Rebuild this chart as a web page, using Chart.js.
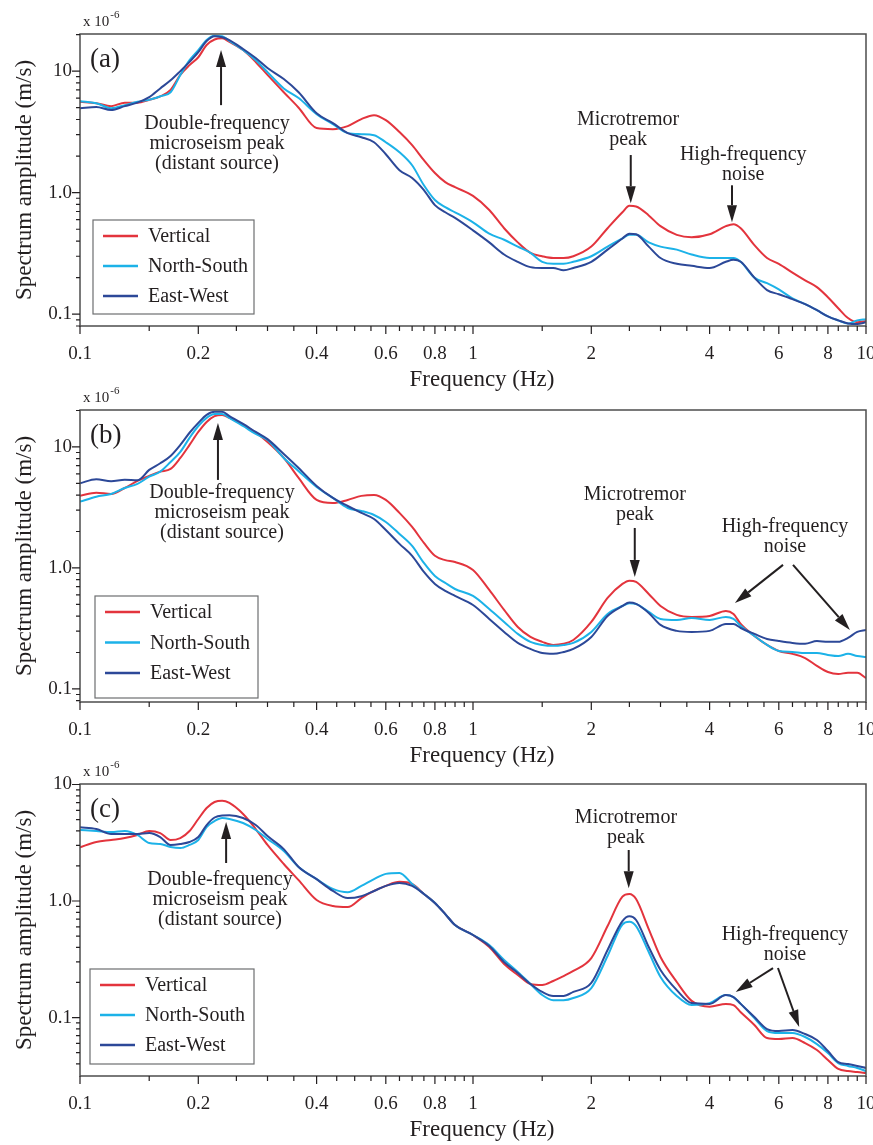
<!DOCTYPE html>
<html>
<head>
<meta charset="utf-8">
<script src="https://cdn.jsdelivr.net/npm/chart.js@4.4.1/dist/chart.umd.min.js"></script>
<style>
  html, body { margin: 0; padding: 0; background: #fff; }
  #wrap { position: relative; width: 873px; height: 1145px; overflow: hidden; }
  canvas { position: absolute; left: 0; }
</style>
</head>
<body>
<div id="wrap">
  <canvas id="chart-a" width="873" height="392" style="top:0px"></canvas>
  <canvas id="chart-b" width="873" height="388" style="top:380px"></canvas>
  <canvas id="chart-c" width="873" height="390" style="top:755px"></canvas>
</div>
<script>
const seriesNames = ["Vertical", "North-South", "East-West"];

const freqHz = [
  0.1, 0.11, 0.12, 0.13, 0.14, 0.15, 0.16, 0.17, 0.18, 0.19,
  0.2, 0.21, 0.22, 0.23, 0.24, 0.26, 0.28, 0.3, 0.33, 0.36,
  0.4, 0.44, 0.48, 0.52, 0.56, 0.6, 0.65, 0.7, 0.75, 0.8,
  0.85, 0.9, 1.0, 1.1, 1.2, 1.3, 1.4, 1.5, 1.6, 1.7,
  1.8, 2.0, 2.2, 2.4, 2.5, 2.6, 2.8, 3.0, 3.3, 3.6, 4.0,
  4.4, 4.6, 4.8, 5.2, 5.6, 6.0, 6.5, 7.0, 7.5, 8.0,
  8.5, 9.0, 9.5, 10
];

// panel (a), x 10^-6 m/s
const verticalA = [
  5.6, 5.45, 5.15, 5.5, 5.5, 5.8, 6.2, 7.0, 9.3, 11.2,
  13.0, 16.4, 18.2, 18.6, 17.4, 14.9, 11.9, 9.3, 6.7, 5.0,
  3.4, 3.33, 3.53, 4.03, 4.34, 3.95, 3.15, 2.46, 1.85, 1.45,
  1.22, 1.11, 0.94, 0.72, 0.51, 0.39, 0.32, 0.30, 0.29, 0.29,
  0.30, 0.36, 0.51, 0.69, 0.78, 0.77, 0.65, 0.53, 0.45, 0.43, 0.455,
  0.53, 0.55, 0.51, 0.37, 0.29, 0.26, 0.22, 0.19, 0.167, 0.138,
  0.112, 0.093, 0.086, 0.088
];
const northSouthA = [
  5.66, 5.45, 4.96, 5.25, 5.6, 5.8, 6.2, 6.7, 9.3, 12.3,
  14.9, 18.0, 19.5, 19.4, 17.7, 14.9, 12.3, 9.8, 7.2, 6.0,
  4.43, 3.66, 3.09, 3.03, 2.97, 2.6, 2.15, 1.68, 1.15, 0.87,
  0.76, 0.69, 0.57, 0.46, 0.41, 0.36, 0.32, 0.27, 0.26, 0.26,
  0.27, 0.30, 0.36, 0.42, 0.45, 0.45, 0.39, 0.36, 0.34, 0.31, 0.29,
  0.29, 0.29, 0.27, 0.20, 0.18, 0.16, 0.135, 0.121, 0.108, 0.096,
  0.089, 0.084, 0.089, 0.091
];
const eastWestA = [
  4.96, 5.06, 4.78, 5.15, 5.5, 6.1, 7.2, 8.4, 10.0, 11.9,
  14.3, 17.7, 19.4, 19.0, 18.0, 15.2, 12.8, 10.6, 8.6, 6.7,
  4.5, 3.73, 3.09, 2.86, 2.6, 2.07, 1.53, 1.32, 1.05, 0.79,
  0.69, 0.62, 0.49, 0.39, 0.31, 0.27, 0.244, 0.24, 0.24, 0.23,
  0.24, 0.27, 0.34, 0.42, 0.46, 0.455, 0.36, 0.29, 0.26, 0.25, 0.24,
  0.27, 0.28, 0.27, 0.20, 0.158, 0.146, 0.133, 0.121, 0.108, 0.096,
  0.089, 0.084, 0.083, 0.086
];

// panel (b)
const verticalB = [
  3.94, 4.19, 4.09, 4.58, 5.24, 5.76, 6.25, 6.58, 8.11, 10.4,
  13.3, 16.1, 18.0, 18.4, 17.4, 15.2, 13.1, 11.0, 8.11, 5.54,
  3.65, 3.44, 3.65, 3.94, 4.01, 3.65, 2.85, 2.18, 1.61, 1.26,
  1.16, 1.12, 0.963, 0.658, 0.450, 0.325, 0.269, 0.245, 0.231, 0.236,
  0.254, 0.358, 0.565, 0.738, 0.785, 0.766, 0.610, 0.485, 0.409, 0.394, 0.401,
  0.441, 0.417, 0.344, 0.274, 0.231, 0.206, 0.195, 0.180, 0.155, 0.138,
  0.133, 0.136, 0.136, 0.123
];
const northSouthB = [
  3.53, 3.88, 4.09, 4.58, 4.95, 5.68, 6.25, 7.52, 9.1, 11.9,
  14.9, 17.4, 18.7, 18.7, 17.4, 14.9, 12.8, 11.4, 8.11, 6.3,
  4.67, 3.79, 3.13, 2.96, 2.74, 2.40, 1.91, 1.52, 1.10, 0.859,
  0.752, 0.670, 0.587, 0.458, 0.358, 0.285, 0.245, 0.231, 0.227, 0.231,
  0.240, 0.296, 0.417, 0.485, 0.511, 0.504, 0.433, 0.379, 0.372, 0.386, 0.372,
  0.394, 0.379, 0.332, 0.274, 0.231, 0.206, 0.202, 0.198, 0.198, 0.191,
  0.187, 0.195, 0.187, 0.184
];
const eastWestB = [
  5.01, 5.41, 5.2, 5.35, 5.3, 6.46, 7.33, 8.43, 10.4, 13.1,
  15.8, 18.4, 19.5, 19.5, 18.0, 15.5, 13.3, 11.6, 8.75, 6.70,
  4.76, 3.79, 3.25, 2.85, 2.54, 2.06, 1.58, 1.26, 0.927, 0.738,
  0.646, 0.587, 0.494, 0.379, 0.296, 0.240, 0.214, 0.198, 0.195, 0.202,
  0.214, 0.269, 0.401, 0.485, 0.517, 0.504, 0.425, 0.338, 0.302, 0.296, 0.302,
  0.344, 0.344, 0.319, 0.285, 0.259, 0.249, 0.240, 0.236, 0.249, 0.245,
  0.245, 0.264, 0.296, 0.307
];

// panel (c)
const verticalC = [
  2.89, 3.21, 3.34, 3.47, 3.69, 3.99, 3.83, 3.34, 3.47, 3.99,
  5.06, 6.29, 7.08, 7.26, 6.94, 5.58, 4.15, 3.03, 2.08, 1.51,
  1.02, 0.906, 0.888, 1.06, 1.22, 1.35, 1.46, 1.40, 1.15, 0.962,
  0.773, 0.622, 0.511, 0.403, 0.288, 0.232, 0.194, 0.190, 0.206, 0.227,
  0.251, 0.324, 0.610, 1.09, 1.15, 1.04, 0.575, 0.331, 0.202, 0.139, 0.124,
  0.131, 0.128, 0.111, 0.0863, 0.0667, 0.0654, 0.0667, 0.0604, 0.0526, 0.0432,
  0.0362, 0.0347, 0.0341, 0.0334
];
const northSouthC = [
  4.07, 3.99, 3.91, 3.99, 3.69, 3.15, 3.09, 2.91, 2.85, 3.03,
  3.34, 4.32, 4.86, 5.16, 5.06, 4.67, 4.07, 3.41, 2.69, 1.96,
  1.54, 1.27, 1.19, 1.35, 1.54, 1.71, 1.74, 1.40, 1.15, 0.962,
  0.773, 0.622, 0.511, 0.419, 0.312, 0.246, 0.194, 0.156, 0.141, 0.141,
  0.147, 0.179, 0.337, 0.629, 0.664, 0.610, 0.365, 0.223, 0.153, 0.128, 0.133,
  0.156, 0.150, 0.131, 0.099, 0.0766, 0.0736, 0.0736, 0.0681, 0.0592, 0.0496,
  0.0407, 0.0384, 0.0369, 0.0347
];
const eastWestC = [
  4.29, 4.15, 3.76, 3.76, 3.76, 3.83, 3.54, 3.03, 3.09, 3.21,
  3.54, 4.49, 5.21, 5.42, 5.44, 5.16, 4.49, 3.61, 2.79, 1.96,
  1.54, 1.22, 1.06, 1.10, 1.22, 1.35, 1.43, 1.35, 1.15, 0.962,
  0.773, 0.622, 0.511, 0.411, 0.299, 0.241, 0.194, 0.166, 0.153, 0.153,
  0.166, 0.198, 0.380, 0.673, 0.74, 0.687, 0.403, 0.256, 0.172, 0.133, 0.131,
  0.156, 0.150, 0.131, 0.101, 0.0797, 0.0766, 0.0781, 0.0722, 0.0641, 0.0516,
  0.0415, 0.0399, 0.0384, 0.0369
];

const xTickValues = [0.1, 0.2, 0.4, 0.6, 0.8, 1, 2, 4, 6, 8, 10];
const xTickLabels = ["0.1", "0.2", "0.4", "0.6", "0.8", "1", "2", "4", "6", "8", "10"];
const xTickMarks = [
  0.1, 0.15, 0.2, 0.25, 0.3, 0.35, 0.4, 0.45, 0.5, 0.55, 0.6, 0.65, 0.7, 0.75,
  0.8, 0.85, 0.9, 0.95, 1, 1.5, 2, 2.5, 3, 3.5, 4, 4.5, 5, 5.5, 6, 6.5, 7,
  7.5, 8, 8.5, 9, 9.5, 10
];
const yTickValues = [0.1, 1, 10];
const yTickLabels = ["0.1", "1.0", "10"];

const FONT = '"Liberation Serif", "Times New Roman", serif';
const INK = "#231f20";
const lineColors = ["#e3343d", "#1cb2e8", "#2c4898"];

const DF_TEXT = ["Double-frequency", "microseism peak", "(distant source)"];
const MT_TEXT = ["Microtremor", "peak"];
const HF_TEXT = ["High-frequency", "noise"];

function tickText(v, values, labels) {
  const i = values.findIndex(t => Math.abs(t - v) < t * 1e-6);
  return i >= 0 ? labels[i] : "";
}

function drawArrow(ctx, x1, y1, x2, y2) {
  const a = Math.atan2(y2 - y1, x2 - x1);
  const hl = 17, hw = 5;
  const bx = x2 - hl * Math.cos(a), by = y2 - hl * Math.sin(a);
  ctx.beginPath();
  ctx.moveTo(x1, y1);
  ctx.lineTo(bx, by);
  ctx.stroke();
  ctx.beginPath();
  ctx.moveTo(x2, y2);
  ctx.lineTo(bx + hw * Math.sin(a), by - hw * Math.cos(a));
  ctx.lineTo(bx - hw * Math.sin(a), by + hw * Math.cos(a));
  ctx.closePath();
  ctx.fill();
}

const decorPlugin = {
  id: "decor",
  afterDraw(chart, args, opts) {
    const { ctx, chartArea: ca, scales: { x, y } } = chart;
    ctx.save();

    ctx.strokeStyle = "#4d4d4d";
    ctx.lineWidth = 1.5;
    ctx.strokeRect(ca.left, ca.top, ca.right - ca.left, ca.bottom - ca.top);

    // tick marks
    ctx.strokeStyle = INK;
    ctx.lineWidth = 1.2;
    ctx.beginPath();
    xTickMarks.forEach(v => {
      const px = x.getPixelForValue(v);
      const len = xTickValues.some(t => Math.abs(t - v) < 1e-9) ? 8 : 5;
      ctx.moveTo(px, ca.bottom);
      ctx.lineTo(px, ca.bottom + len);
    });
    for (let d = -2; d <= 1; d++) {
      for (let m = 1; m <= 9; m++) {
        const v = m * Math.pow(10, d);
        if (v < y.min * 0.999 || v > y.max * 1.001) continue;
        const py = y.getPixelForValue(v);
        ctx.moveTo(ca.left, py);
        ctx.lineTo(ca.left - (m === 1 ? 8 : 4), py);
      }
    }
    ctx.stroke();

    ctx.fillStyle = INK;
    ctx.textBaseline = "alphabetic";
    ctx.textAlign = "left";
    ctx.font = "15px " + FONT;
    ctx.fillText("x 10", ca.left + 3, ca.top - 8);
    const w = ctx.measureText("x 10").width;
    ctx.font = "11px " + FONT;
    ctx.fillText("-6", ca.left + 4 + w, ca.top - 16);

    ctx.font = "27px " + FONT;
    ctx.textBaseline = "middle";
    ctx.fillText(opts.tag, ca.left + 10, ca.top + 26);

    // x-axis title, sits a little right of the axis centre
    ctx.textAlign = "center";
    ctx.font = "23px " + FONT;
    ctx.fillText("Frequency (Hz)", (ca.left + ca.right) / 2 + 9, ca.bottom + 54);
    ctx.textAlign = "left";

    // legend
    const lg = opts.legend;
    const lx = ca.left + lg.dx, ly = ca.top + lg.dy;
    ctx.fillStyle = "#fff";
    ctx.fillRect(lx, ly, lg.w, lg.h);
    ctx.strokeStyle = "#6d6e70";
    ctx.lineWidth = 1.2;
    ctx.strokeRect(lx, ly, lg.w, lg.h);
    ctx.font = "20px " + FONT;
    chart.data.datasets.forEach((ds, i) => {
      const ry = ly + 16 + i * lg.row;
      ctx.strokeStyle = ds.borderColor;
      ctx.lineWidth = 2.5;
      ctx.beginPath();
      ctx.moveTo(lx + 10, ry);
      ctx.lineTo(lx + 45, ry);
      ctx.stroke();
      ctx.fillStyle = INK;
      ctx.fillText(ds.label, lx + 55, ry + 1);
    });

    // annotations
    ctx.fillStyle = INK;
    ctx.strokeStyle = INK;
    ctx.lineWidth = 2;
    ctx.textAlign = "center";
    ctx.font = "20px " + FONT;
    opts.notes.forEach(n => {
      const nx = x.getPixelForValue(n.f), ny = y.getPixelForValue(n.v);
      n.lines.forEach((t, k) => ctx.fillText(t, nx, ny + k * 20));
    });
    opts.arrows.forEach(a => {
      drawArrow(ctx,
        x.getPixelForValue(a.from[0]), y.getPixelForValue(a.from[1]),
        x.getPixelForValue(a.to[0]), y.getPixelForValue(a.to[1]));
    });
    ctx.restore();
  }
};

function makeChart(id, cfg) {
  const datasets = cfg.series.map((vals, i) => ({
    label: seriesNames[i],
    data: freqHz.map((f, k) => ({ x: f, y: vals[k] })),
    borderColor: lineColors[i],
    borderWidth: 2,
    pointRadius: 0,
    fill: false,
    cubicInterpolationMode: "monotone",
    order: 2 - i
  }));
  return new Chart(document.getElementById(id), {
    type: "line",
    data: { datasets },
    plugins: [decorPlugin],
    options: {
      responsive: false,
      animation: false,
      events: [],
      layout: { padding: { top: cfg.padTop, right: 7, bottom: cfg.padBottom, left: 0 } },
      plugins: {
        legend: { display: false },
        tooltip: { enabled: false },
        decor: { tag: cfg.tag, legend: cfg.legend, notes: cfg.notes, arrows: cfg.arrows }
      },
      scales: {
        x: {
          type: "logarithmic",
          min: 0.1,
          max: 10,
          afterBuildTicks: s => { s.ticks = xTickValues.map(v => ({ value: v })); },
          afterFit: s => { s.height = 66; s.paddingLeft = 0; s.paddingRight = 0; },
          grid: { display: false, drawTicks: false },
          border: { display: false },
          ticks: {
            autoSkip: false,
            maxRotation: 0,
            padding: 17,
            color: INK,
            font: { family: FONT, size: 19 },
            callback: v => tickText(v, xTickValues, xTickLabels)
          },
          title: { display: false }
        },
        y: {
          type: "logarithmic",
          min: cfg.yMin,
          max: cfg.yMax,
          afterBuildTicks: s => { s.ticks = yTickValues.map(v => ({ value: v })); },
          afterFit: s => { s.width = 80; s.paddingTop = 0; s.paddingBottom = 0; },
          grid: { display: false, drawTicks: false },
          border: { display: false },
          ticks: {
            padding: 8,
            color: INK,
            font: { family: FONT, size: 19 },
            callback: v => tickText(v, yTickValues, yTickLabels)
          },
          title: {
            display: true,
            text: "Spectrum amplitude (m/s)",
            color: INK,
            font: { family: FONT, size: 23, lineHeight: 1 },
            padding: { top: 13, bottom: 0 }
          }
        }
      }
    }
  });
}

makeChart("chart-a", {
  tag: "(a)", yMin: 0.08, yMax: 20.2, padTop: 34, padBottom: 0,
  series: [verticalA, northSouthA, eastWestA],
  legend: { dx: 13, dy: 186, w: 161, h: 94, row: 30 },
  notes: [
    { f: 0.2232, v: 3.66, lines: DF_TEXT },
    { f: 2.48, v: 3.95, lines: MT_TEXT },
    { f: 4.87, v: 2.04, lines: HF_TEXT }
  ],
  arrows: [
    { from: [0.2285, 5.25], to: [0.2285, 14.9] },
    { from: [2.52, 2.04], to: [2.52, 0.82] },
    { from: [4.56, 1.15], to: [4.56, 0.572] }
  ]
});

makeChart("chart-b", {
  tag: "(b)", yMin: 0.078, yMax: 20.2, padTop: 30, padBottom: 0,
  series: [verticalB, northSouthB, eastWestB],
  legend: { dx: 15, dy: 186, w: 163, h: 102, row: 30.5 },
  notes: [
    { f: 0.2297, v: 4.17, lines: DF_TEXT },
    { f: 2.58, v: 4.01, lines: MT_TEXT },
    { f: 6.22, v: 2.18, lines: HF_TEXT }
  ],
  arrows: [
    { from: [0.2244, 5.34], to: [0.2244, 15.8] },
    { from: [2.58, 2.14], to: [2.58, 0.843] },
    { from: [6.15, 1.06], to: [4.64, 0.514] },
    { from: [6.52, 1.06], to: [9.1, 0.307] }
  ]
});

makeChart("chart-c", {
  tag: "(c)", yMin: 0.0315, yMax: 10.1, padTop: 29, padBottom: 3,
  series: [verticalC, northSouthC, eastWestC],
  legend: { dx: 10, dy: 185, w: 164, h: 95, row: 30 },
  notes: [
    { f: 0.227, v: 1.51, lines: DF_TEXT },
    { f: 2.45, v: 5.16, lines: MT_TEXT },
    { f: 6.22, v: 0.511, lines: HF_TEXT }
  ],
  arrows: [
    { from: [0.2354, 2.12], to: [0.2354, 4.77] },
    { from: [2.49, 2.74], to: [2.49, 1.29] },
    { from: [5.8, 0.266], to: [4.66, 0.166] },
    { from: [5.97, 0.266], to: [6.76, 0.0829] }
  ]
});
</script>
</body>
</html>
